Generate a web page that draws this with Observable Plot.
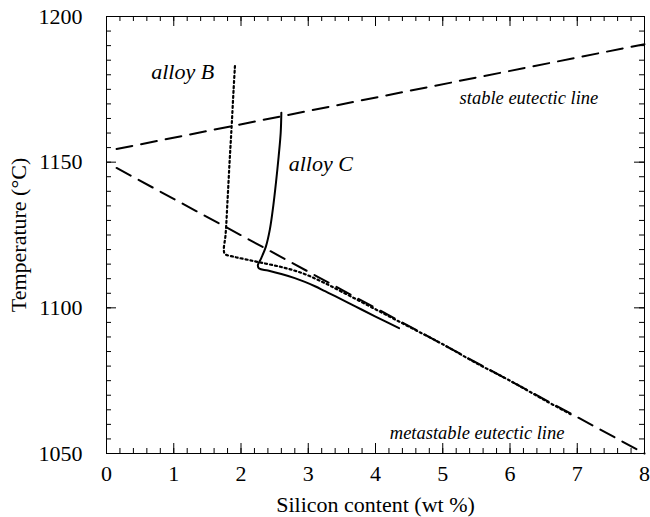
<!DOCTYPE html>
<html>
<head>
<meta charset="utf-8">
<script src="https://cdn.jsdelivr.net/npm/d3@7"></script>
<script src="https://cdn.jsdelivr.net/npm/@observablehq/plot@0.6"></script>
<style>
  html, body { margin: 0; padding: 0; background: #fff; }
</style>
</head>
<body>
<div id="chart"></div>
<script>
// ---- Data ----
const stableX = [0.15, 8.0];
const stableT = [1154.5, 1190.5];

const metaX = [0.15, 8.0];
const metaT = [1148.0, 1050.0];

const alloyBX = [1.91, 1.89, 1.86, 1.83, 1.80, 1.77, 1.745, 1.76, 1.90, 2.10, 2.30, 2.60, 2.90, 3.20, 3.50, 4.00, 4.50, 5.00, 5.50, 6.00, 6.50, 6.90];
const alloyBT = [1183, 1175, 1162, 1150, 1137, 1125, 1120, 1118.5, 1117.5, 1116.5, 1115.5, 1114, 1112, 1109, 1105.5, 1099.5, 1093.5, 1087.5, 1081, 1075, 1068.5, 1063.5];

const alloyCX = [2.60, 2.59, 2.56, 2.52, 2.48, 2.43, 2.37, 2.30, 2.25, 2.27, 2.40, 2.60, 2.80, 2.95, 3.10, 3.25, 3.40, 3.70, 4.00, 4.35];
const alloyCT = [1167, 1160, 1152, 1143, 1135, 1127, 1121, 1117, 1114.5, 1113.5, 1112.8, 1111.6, 1110.2, 1108.9, 1107.4, 1105.7, 1104, 1100.5, 1097, 1093];

const xTickLabels = [0, 1, 2, 3, 4, 5, 6, 7, 8];
const yTickLabels = [1050, 1100, 1150, 1200];
const xMinorTicks = d3.range(0, 41).map(i => i / 5);
const yMinorTicks = d3.range(0, 31).map(i => 1050 + i * 5);

const annText = ["alloy B", "alloy C", "stable eutectic line", "metastable eutectic line"];
const annX = [1.60, 2.71, 5.25, 6.81];
const annT = [1180.8, 1149.5, 1172, 1057];

// ---- Layout ----
const W = 650, H = 517;
const mL = 106, mR = 6, mT = 16, mB = 64;
const innerW = W - mL - mR, innerH = H - mT - mB;
const pts = (xs, ts) => xs.map((x, i) => ({x, t: ts[i]}));

const chart = Plot.plot({
  width: W,
  height: H,
  marginLeft: mL,
  marginRight: mR,
  marginTop: mT,
  marginBottom: mB,
  style: {
    fontFamily: "'Liberation Serif', 'Times New Roman', serif",
    fontSize: "22px",
    background: "#fff",
    color: "#000"
  },
  x: {domain: [0, 8]},
  y: {domain: [1050, 1200]},
  marks: [
    // inward ticks on all four sides
    Plot.ruleX(xMinorTicks, {insetTop: innerH - 5, stroke: "#000", strokeWidth: 1}),
    Plot.ruleX(xMinorTicks, {insetBottom: innerH - 5, stroke: "#000", strokeWidth: 1}),
    Plot.ruleX(xTickLabels, {insetTop: innerH - 10, stroke: "#000", strokeWidth: 1}),
    Plot.ruleX(xTickLabels, {insetBottom: innerH - 10, stroke: "#000", strokeWidth: 1}),
    Plot.ruleY(yMinorTicks, {insetRight: innerW - 5, stroke: "#000", strokeWidth: 1}),
    Plot.ruleY(yMinorTicks, {insetLeft: innerW - 5, stroke: "#000", strokeWidth: 1}),
    Plot.ruleY(yTickLabels, {insetRight: innerW - 10, stroke: "#000", strokeWidth: 1}),
    Plot.ruleY(yTickLabels, {insetLeft: innerW - 10, stroke: "#000", strokeWidth: 1}),
    Plot.frame({stroke: "#000", strokeWidth: 1}),
    Plot.axisX({
      ticks: xTickLabels, tickSize: 0, tickPadding: 12,
      tickFormat: d => String(d),
      label: "Silicon content (wt %)", labelAnchor: "center", labelOffset: 58, labelArrow: "none"
    }),
    Plot.axisY({
      ticks: yTickLabels, tickSize: 0, tickPadding: 24,
      tickFormat: d => String(d),
      label: "Temperature (°C)", labelAnchor: "center", labelOffset: 96, labelArrow: "none"
    }),
    // eutectic lines
    Plot.line(pts(stableX, stableT), {x: "x", y: "t", stroke: "#000", strokeWidth: 2, strokeDasharray: "16,9"}),
    Plot.line(pts(metaX, metaT), {x: "x", y: "t", stroke: "#000", strokeWidth: 2, strokeDasharray: "16,9"}),
    // alloys
    Plot.line(pts(alloyBX, alloyBT), {x: "x", y: "t", stroke: "#000", strokeWidth: 2.2, strokeDasharray: "2,3", curve: "catmull-rom"}),
    Plot.line(pts(alloyCX, alloyCT), {x: "x", y: "t", stroke: "#000", strokeWidth: 2, curve: "catmull-rom"}),
    // annotations
    Plot.text([0], {x: i => annX[i], y: i => annT[i], text: i => annText[i], textAnchor: "end", fontStyle: "italic", fontSize: 22}),
    Plot.text([1], {x: i => annX[i], y: i => annT[i], text: i => annText[i], textAnchor: "start", fontStyle: "italic", fontSize: 22}),
    Plot.text([2], {x: i => annX[i], y: i => annT[i], text: i => annText[i], textAnchor: "start", fontStyle: "italic", fontSize: 18.5}),
    Plot.text([3], {x: i => annX[i], y: i => annT[i], text: i => annText[i], textAnchor: "end", fontStyle: "italic", fontSize: 18.5})
  ]
});
document.getElementById("chart").appendChild(chart);
</script>
</body>
</html>
